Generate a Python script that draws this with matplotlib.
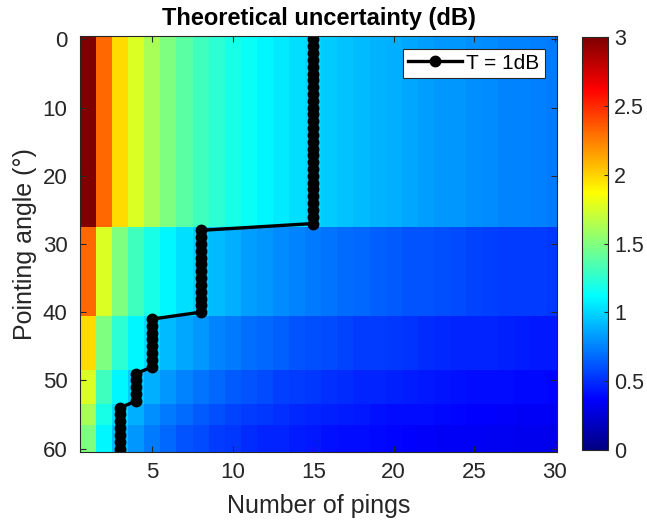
import numpy as np
import matplotlib
matplotlib.use("Agg")
import matplotlib.pyplot as plt
from matplotlib.colors import ListedColormap

plt.rcParams['font.family'] = ['Liberation Sans', 'DejaVu Sans']

# ---- data ----
pings = list(range(1, 31))
# angle bands (inclusive start/end, degrees)
band_start = [0, 28, 41, 49, 54, 57]
band_end = [27, 40, 48, 53, 56, 60]
# uncertainty (dB) per band for 1..30 pings
band1 = [3.01, 2.32, 1.98, 1.76, 1.61, 1.49, 1.39, 1.31, 1.25, 1.19, 1.14, 1.10, 1.06, 1.03, 0.998,
         0.97, 0.94, 0.92, 0.90, 0.88, 0.86, 0.84, 0.82, 0.81, 0.79, 0.78, 0.76, 0.75, 0.74, 0.73]
band2 = [2.32, 1.76, 1.49, 1.31, 1.19, 1.10, 1.03, 0.97, 0.92, 0.88, 0.84, 0.81, 0.78, 0.75, 0.73,
         0.71, 0.69, 0.67, 0.65, 0.64, 0.62, 0.61, 0.60, 0.59, 0.57, 0.56, 0.55, 0.54, 0.54, 0.53]
band3 = [1.98, 1.49, 1.25, 1.10, 0.998, 0.92, 0.86, 0.81, 0.76, 0.73, 0.70, 0.67, 0.65, 0.62, 0.60,
         0.59, 0.57, 0.55, 0.54, 0.53, 0.52, 0.50, 0.49, 0.48, 0.47, 0.47, 0.46, 0.45, 0.44, 0.44]
band4 = [1.76, 1.31, 1.10, 0.97, 0.88, 0.81, 0.75, 0.71, 0.67, 0.64, 0.61, 0.59, 0.56, 0.54, 0.53,
         0.51, 0.50, 0.48, 0.47, 0.46, 0.45, 0.44, 0.43, 0.42, 0.41, 0.41, 0.40, 0.39, 0.39, 0.38]
band5 = [1.61, 1.19, 0.998, 0.88, 0.79, 0.73, 0.68, 0.64, 0.60, 0.57, 0.55, 0.53, 0.51, 0.49, 0.47,
         0.46, 0.45, 0.44, 0.42, 0.41, 0.40, 0.40, 0.39, 0.38, 0.37, 0.37, 0.36, 0.35, 0.35, 0.34]
band6 = [1.49, 1.10, 0.92, 0.81, 0.73, 0.67, 0.62, 0.59, 0.55, 0.53, 0.50, 0.48, 0.47, 0.45, 0.44,
         0.42, 0.41, 0.40, 0.39, 0.38, 0.37, 0.36, 0.35, 0.35, 0.34, 0.33, 0.33, 0.32, 0.32, 0.31]
bands = [band1, band2, band3, band4, band5, band6]
# pings needed for T = 1 dB in each band
threshold_pings = [15, 8, 5, 4, 3, 3]

# ---- assemble ----
angles = []
rows = []
line_x = []
for s, e, vals, th in zip(band_start, band_end, bands, threshold_pings):
    for a in range(s, e + 1):
        angles.append(a)
        rows.append(vals)
        line_x.append(th)
Z = np.array(rows)

# MATLAB-style jet colormap
def matlab_jet(n=256):
    m = int(np.ceil(n / 4))
    u = np.concatenate([np.arange(1, m + 1) / m, np.ones(m - 1), np.arange(m, 0, -1) / m])
    g = int(np.ceil(m / 2)) - (1 if n % 4 == 1 else 0) + np.arange(1, len(u) + 1)
    r = g + m
    b = g - m
    g = g[g <= n]; r = r[r <= n]; b = b[b >= 1]
    J = np.zeros((n, 3))
    J[r - 1, 0] = u[:len(r)]
    J[g - 1, 1] = u[:len(g)]
    J[b - 1, 2] = u[len(u) - len(b):]
    return ListedColormap(J)

cmap = matlab_jet(256)

W, H = 647, 524
fig = plt.figure(figsize=(W / 100, H / 100), dpi=100)
ax = fig.add_axes([80 / W, 1 - 452 / H, (557 - 80) / W, (452 - 36) / H])

im = ax.imshow(Z, cmap=cmap, vmin=0, vmax=3, aspect='auto', interpolation='nearest',
               extent=(pings[0] - 0.5, pings[-1] + 0.5, angles[-1] + 0.5, angles[0] - 0.5))
ax.plot(line_x, angles, '-o', color='black', linewidth=2.4, markersize=7.5,
        markerfacecolor='black', label='T = 1dB')

ax.set_xlim(0.5, 30.15)
ax.set_ylim(60.5, -0.5)
ax.set_xticks([5, 10, 15, 20, 25, 30])
ax.set_yticks([0, 10, 20, 30, 40, 50, 60])
ax.tick_params(direction='in', top=True, right=True, labelsize=16, colors='#262626', length=4)
ax.tick_params(axis='x', pad=7)
ax.tick_params(axis='y', pad=9)
for sp in ax.spines.values():
    sp.set_color('#262626')
    sp.set_linewidth(0.8)
ax.set_xlabel('Number of pings', fontsize=18, color='#262626', labelpad=8)
ax.set_ylabel('Pointing angle (°)', fontsize=18, color='#262626', labelpad=4)
ax.set_title('Theoretical uncertainty (dB)', fontsize=17, fontweight='bold', pad=8)

leg = ax.legend(loc='upper right', fontsize=15, frameon=True, fancybox=False,
                edgecolor='#262626', framealpha=1, borderpad=0.25, handlelength=2.6,
                handletextpad=0.2, borderaxespad=0.6)
leg.get_frame().set_linewidth(0.8)

cax = fig.add_axes([582 / W, 1 - 450 / H, 26 / W, (450 - 37) / H])
cb = fig.colorbar(im, cax=cax, ticks=[0, 0.5, 1, 1.5, 2, 2.5, 3])
cb.ax.set_yticklabels(['0', '0.5', '1', '1.5', '2', '2.5', '3'])
cb.ax.tick_params(direction='in', labelsize=15.5, colors='#262626', length=3, pad=4.5)
cb.outline.set_edgecolor('#262626')
cb.outline.set_linewidth(0.8)

fig.savefig('out.png', dpi=100)
